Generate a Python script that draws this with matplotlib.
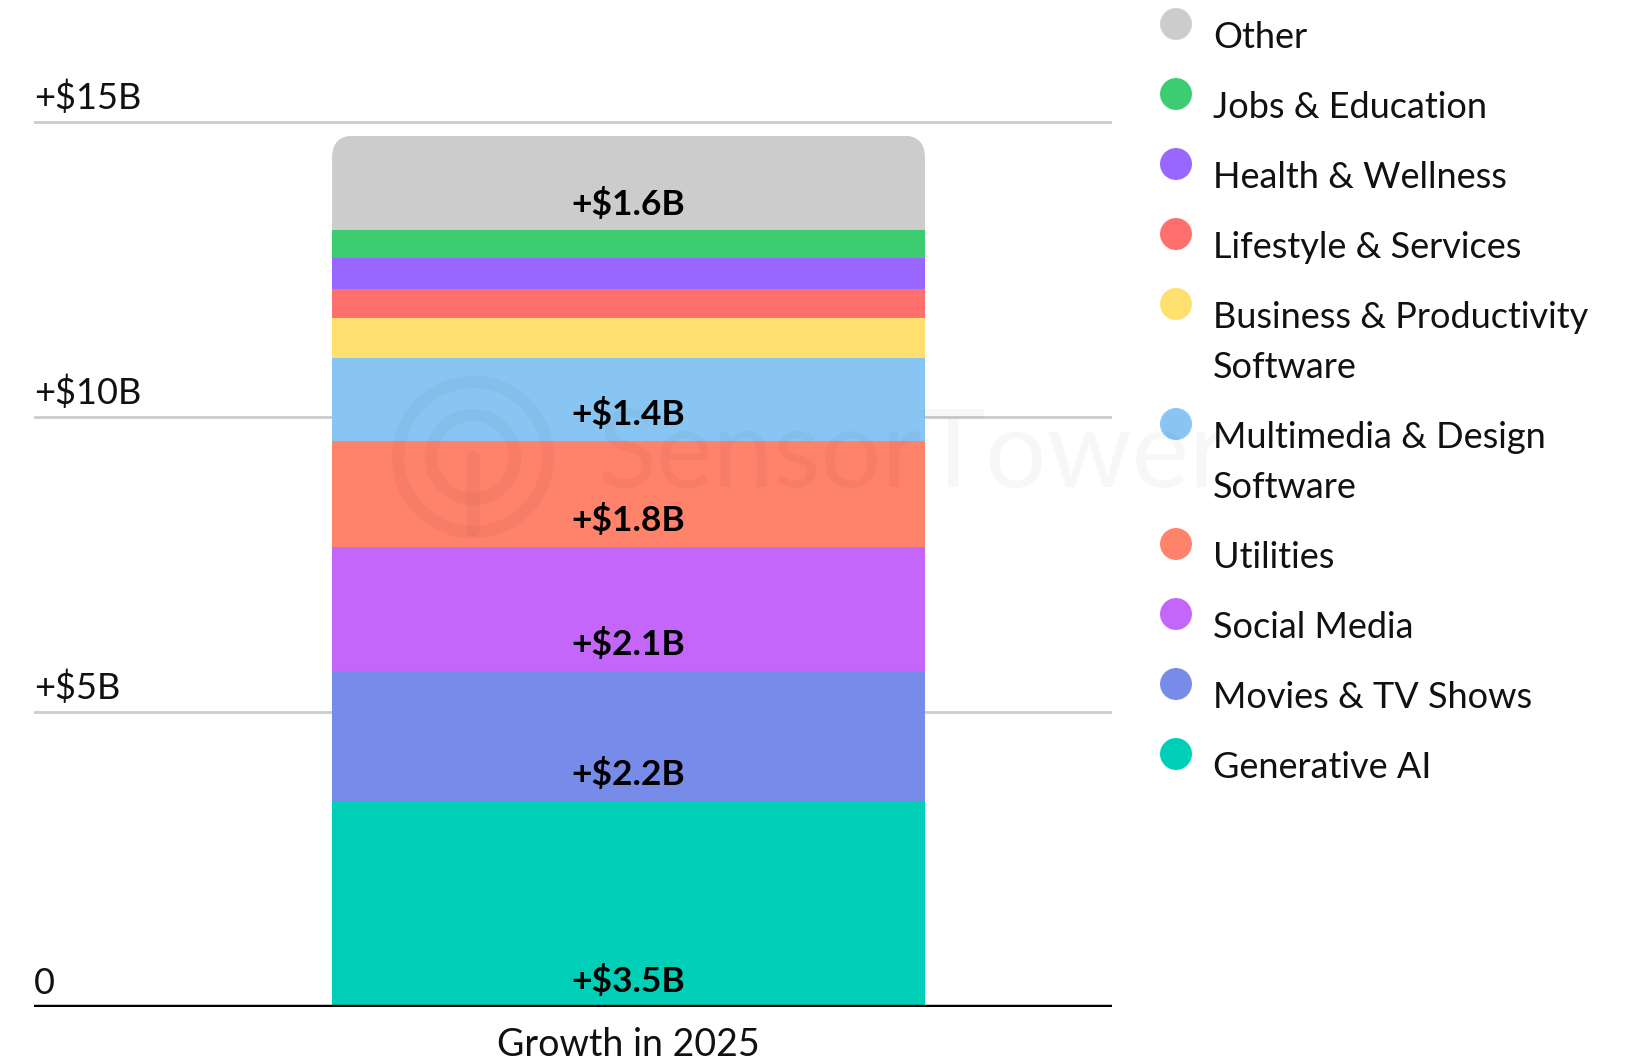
import numpy as np
import matplotlib.pyplot as plt
from matplotlib.patches import FancyBboxPatch, Circle

plt.rcParams['font.family'] = ['Lato', 'DejaVu Sans']

# stacked from bottom to top
categories = ["Generative AI", "Movies & TV Shows", "Social Media", "Utilities",
              "Multimedia & Design\nSoftware", "Business & Productivity\nSoftware",
              "Lifestyle & Services", "Health & Wellness", "Jobs & Education", "Other"]
values = [3.5, 2.2, 2.1, 1.8, 1.4, 0.67, 0.5, 0.52, 0.48, 1.6]
value_labels = ["+$3.5B", "+$2.2B", "+$2.1B", "+$1.8B", "+$1.4B", "", "", "", "", "+$1.6B"]
colors = ["#00CFB8", "#778BE8", "#C466FA", "#FF826B", "#89C5F2", "#FFE06E",
          "#FF6F6D", "#9966FF", "#3DCC72", "#CCCCCC"]
yticks = [0, 5, 10, 15]
ytick_labels = ["0", "+$5B", "+$10B", "+$15B"]
xlabel = "Growth in 2025"

W, H = 1629, 1064
fig = plt.figure(figsize=(W / 100, H / 100), dpi=100)
ax = fig.add_axes([34 / W, 57 / H, 1078 / W, 16 * 59 / H])
ax.set_xlim(0, 1)
ax.set_ylim(0, 16)
ax.axis("off")

for t, lab in zip(yticks, ytick_labels):
    if t > 0:
        ax.axhline(t, color="#CCCCCC", lw=2, zorder=0)
    ax.annotate(lab, (0, t), xytext=(0, 13), textcoords="offset pixels",
                fontsize=26, ha="left", va="baseline", color="#111111")
ax.axhline(0, color="black", lw=3.2, zorder=5)

xc, bw = 0.5515, 0.55
bottoms = np.concatenate([[0], np.cumsum(values)[:-1]])
bars = ax.bar(xc, values, bottom=bottoms, width=bw, color=colors, zorder=2)

# rounded top corners on the top segment
asp = (1 / 59) / (1 / 1078)
top = bottoms[-1] + values[-1]
clip = FancyBboxPatch((xc - bw / 2, bottoms[-1] - 1), bw, top - bottoms[-1] + 1,
                      boxstyle="round,pad=0,rounding_size=0.0204",
                      mutation_aspect=asp, transform=ax.transData)
bars.patches[-1].set_clip_path(clip)

for b, v, lab in zip(bottoms, values, value_labels):
    if lab:
        ax.text(xc, b + 0.44, lab, ha="center", va="center", fontsize=25.5,
                fontweight="bold", color="black", zorder=4)

fig.text((332 + 925) / 2 / W, 1 - 1045 / H, xlabel, ha="center", va="center",
         fontsize=27, color="#111111")

# overlay in pixel coords: watermark + legend
ov = fig.add_axes([0, 0, 1, 1])
ov.set_xlim(0, W)
ov.set_ylim(H, 0)
ov.axis("off")
wm = dict(color="#000000", alpha=0.03)
ov.add_patch(Circle((473, 457), 75, fill=False, lw=9, **wm))
ov.add_patch(Circle((473, 457), 42, fill=False, lw=9, **wm))
ov.plot([473, 473], [457, 530], lw=10, solid_capstyle="round", **wm)
ov.text(597, 457, "SensorTower", fontsize=78, ha="left", va="center", **wm)

y = 24
for name, col in zip(categories[::-1], colors[::-1]):
    ov.scatter([1176], [y], s=23 ** 2, color=col, edgecolors="none")
    for i, line in enumerate(name.split("\n")):
        ov.text(1213, y + 24 + 50 * i, line, fontsize=26, va="baseline",
                ha="left", color="#111111")
    y += 70 + 50 * name.count("\n")

fig.savefig("out.png", dpi=100)
